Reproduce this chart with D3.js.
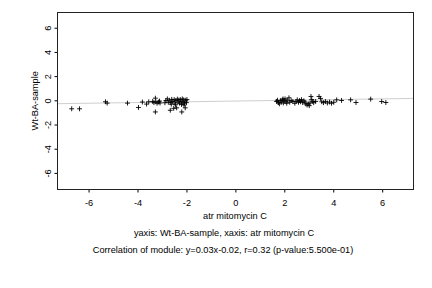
<!DOCTYPE html>
<html>
<head>
<meta charset="utf-8">
<script src="https://cdn.jsdelivr.net/npm/d3@7"></script>
<style>
    body { margin: 0; background: #fff; }
    text { font-family: "Liberation Sans", Arial, sans-serif; font-size: 9.2px; fill: #000; }
</style>
</head>
<body>
<script>
// atr mitomycin C values (x)
const xValues = [
    -6.69, -6.37, -5.31, -5.24, -4.41, -3.96, -3.80, -3.63, -3.54, -3.27,
    -3.27, -3.38, -3.33, -3.25, -3.20, -3.14, -3.10, -3.08, -2.78, -2.74,
    -2.70, -2.66, -2.64, -2.60, -2.56, -2.52, -2.50, -2.47, -2.43, -2.40,
    -2.37, -2.34, -2.31, -2.28, -2.25, -2.22, -2.19, -2.17, -2.14, -2.11,
    -2.08, -2.05, -2.03, -2.00, -1.98, -2.88, -2.84, -2.20, -2.45, -2.62,
    -2.10,
    1.68, 1.72, 1.76, 1.80, 1.84, 1.88, 1.92, 1.96, 2.00, 2.03,
    2.07, 2.12, 2.19, 2.22, 2.28, 2.43, 2.48, 2.53, 2.58, 2.62,
    2.66, 2.70, 2.75, 2.80, 2.84, 2.88, 2.93, 2.98, 3.02, 3.05,
    3.09, 3.12, 3.16, 3.20, 3.28, 3.42, 3.48, 3.53, 3.60, 3.68,
    3.76, 3.85, 3.93, 4.02, 4.14, 4.34, 4.71, 4.93, 5.53, 5.98,
    6.15, 2.35, 2.10, 1.95
]
// Wt-BA-sample values (y)
const yValues = [
    -0.66, -0.66, -0.08, -0.19, -0.19, -0.55, -0.10, -0.27, -0.08, 0.22,
    -0.92, -0.05, -0.15, -0.08, -0.20, -0.10, -0.02, -0.18, 0.16, -0.12,
    0.05, -0.78, -0.15, 0.12, -0.05, -0.62, 0.10, -0.18, 0.02, -0.58,
    0.14, -0.10, 0.06, -0.20, 0.10, -0.05, -0.92, 0.16, -0.12, 0.08,
    -0.20, -0.58, 0.05, -0.15, 0.10, -0.16, 0.02, -0.30, -0.32, -0.28,
    -0.35,
    -0.05, 0.05, -0.15, -0.25, 0.02, -0.10, 0.08, -0.18, 0.00, 0.16,
    -0.08, 0.05, 0.25, -0.12, 0.02, -0.20, -0.05, 0.08, -0.12, 0.02,
    -0.08, 0.10, -0.15, 0.00, -0.10, -0.25, -0.35, -0.25, -0.40, -0.18,
    0.36, 0.10, -0.05, -0.15, -0.05, 0.36, 0.20, -0.08, -0.15, -0.05,
    -0.18, -0.10, -0.20, -0.12, 0.08, 0.03, 0.08, -0.14, 0.14, -0.06,
    -0.14, -0.05, -0.20, 0.15
]
const xTicks = [-6, -4, -2, 0, 2, 4, 6]
const yTicks = [-6, -4, -2, 0, 2, 4, 6]
const slope = 0.03
const intercept = -0.02

const WIDTH = 432
const HEIGHT = 288

const PADDING = {
    left: 57.5,
    right: 18.5,
    top: 12.5,
    bottom: 98.5
}

const svg = d3.select("body")
    .append("svg")
    .attr("width", WIDTH)
    .attr("height", HEIGHT)

const xScale = d3.scaleLinear()
    .domain([-7.27, 7.28])
    .range([PADDING.left, WIDTH - PADDING.right])

const yScale = d3.scaleLinear()
    .domain([-7.33, 7.3])
    .range([HEIGHT - PADDING.bottom, PADDING.top])

// regression line
const xd = xScale.domain()
svg.append("line")
    .attr("x1", xScale(xd[0]))
    .attr("x2", xScale(xd[1]))
    .attr("y1", yScale(slope * xd[0] + intercept))
    .attr("y2", yScale(slope * xd[1] + intercept))
    .attr("stroke", "#cfcfcf")
    .attr("stroke-width", 1)

// points as "+"
const pts = d3.zip(xValues, yValues)
svg.append("g")
    .selectAll("path")
    .data(pts)
    .enter()
    .append("path")
    .attr("d", d3.symbol(d3.symbolPlus, 9))
    .attr("transform", d => "translate(" + xScale(d[0]) + "," + yScale(d[1]) + ")")
    .attr("fill", "none")
    .attr("stroke", "#000")
    .attr("stroke-width", 0.9)

const fmt = d => String(d)
const xAxis = d3.axisBottom(xScale).tickValues(xTicks).tickSize(3).tickPadding(7).tickFormat(fmt)
const yAxis = d3.axisLeft(yScale).tickValues(yTicks).tickSize(3).tickPadding(4).tickFormat(fmt)

const gx = svg.append("g")
    .attr("transform", "translate(0," + (HEIGHT - PADDING.bottom) + ")")
    .call(xAxis)
gx.attr("font-size", null).attr("font-family", null)
gx.select(".domain").remove()

const gy = svg.append("g")
    .attr("transform", "translate(" + PADDING.left + ",0)")
    .call(yAxis)
gy.attr("font-size", null).attr("font-family", null)
gy.select(".domain").remove()
gy.selectAll(".tick").attr("transform", null)
gy.selectAll(".tick line").attr("transform", d => "translate(0," + yScale(d) + ")")
gy.selectAll(".tick text")
    .attr("x", null)
    .attr("dy", null)
    .attr("y", 0)
    .attr("text-anchor", "middle")
    .attr("dominant-baseline", "central")
    .attr("transform", d => "translate(-10," + yScale(d) + ") rotate(-90)")

// plot box
svg.append("rect")
    .attr("x", PADDING.left)
    .attr("y", PADDING.top)
    .attr("width", WIDTH - PADDING.left - PADDING.right)
    .attr("height", HEIGHT - PADDING.top - PADDING.bottom)
    .attr("fill", "none")
    .attr("stroke", "#222")
    .attr("stroke-width", 1)

// titles
svg.append("text")
    .attr("x", 235)
    .attr("y", 216)
    .attr("text-anchor", "middle")
    .attr("dominant-baseline", "central")
    .text("atr mitomycin C")

svg.append("text")
    .attr("transform", "translate(35," + yScale(0) + ") rotate(-90)")
    .attr("text-anchor", "middle")
    .attr("dominant-baseline", "central")
    .text("Wt-BA-sample")

svg.append("text")
    .attr("x", 224)
    .attr("y", 233)
    .attr("text-anchor", "middle")
    .attr("dominant-baseline", "central")
    .text("yaxis: Wt-BA-sample, xaxis: atr mitomycin C")

svg.append("text")
    .attr("x", 223)
    .attr("y", 250)
    .attr("text-anchor", "middle")
    .attr("dominant-baseline", "central")
    .text("Correlation of module: y=0.03x-0.02, r=0.32 (p-value:5.500e-01)")
</script>
</body>
</html>
